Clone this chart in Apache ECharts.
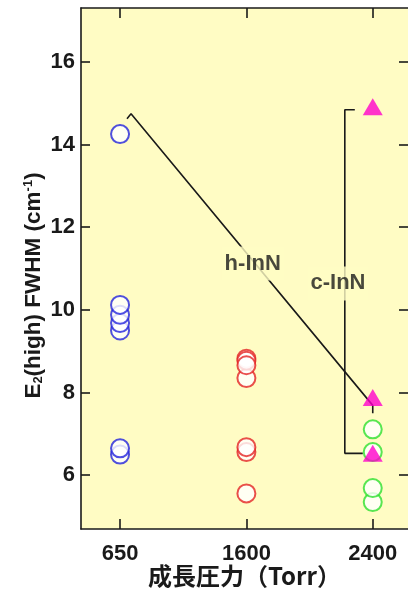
<!DOCTYPE html>
<html>
<head>
<meta charset="utf-8">
<style>
  html, body { margin: 0; padding: 0; background: #ffffff; }
  #chart { width: 408px; height: 593px; }
</style>
<script src="https://cdn.jsdelivr.net/npm/echarts@6/dist/echarts.min.js"></script>
</head>
<body>
<div id="chart"></div>
<script>
// Growth pressure groups (x positions are the group index 0, 1, 2)
const pressureLabels = ['650', '1600', '2400'];
const yTicks = [6, 8, 10, 12, 14, 16];

// E2(high) FWHM values (cm^-1) of hexagonal InN, per growth pressure
const hInN650 = [6.5, 6.65, 9.5, 9.68, 9.88, 10.12, 14.25];
const hInN1600 = [5.56, 6.56, 6.68, 8.35, 8.82, 8.77, 8.66];
const hInN2400 = [5.35, 5.69, 6.56, 7.11];
// cubic InN at 2400 Torr
const cInN2400 = [6.53, 7.88, 14.91];

// guide lines for the two phases (group index, FWHM)
const hGuideX = [0.055, 0.087, 2.0, 2.0];
const hGuideY = [14.62, 14.74, 7.69, 7.5];
const cBracketX = [1.858, 1.779, 1.779, 1.921];
const cBracketY = [14.84, 14.84, 6.53, 6.53];

// phase labels
const phaseNames = ['h-InN', 'c-InN'];
const phaseX = [1.05, 1.725];
const phaseY = [11.12, 10.64];

const plotBg = '#fffcc4';
const ink = '#1a1a1a';
const latin = '"Liberation Sans", Arial, sans-serif';

function circles(idx, values, color) {
  return {
    type: 'scatter',
    data: values.map(v => [idx, v]),
    symbol: 'circle',
    symbolSize: 18,
    itemStyle: { color: '#ffffff', borderColor: color, borderWidth: 2 },
    z: 5,
    silent: true
  };
}

function path(xs, ys) {
  return {
    type: 'line',
    data: xs.map((x, i) => [x, ys[i]]),
    showSymbol: false,
    symbol: 'none',
    lineStyle: { color: ink, width: 1.6 },
    z: 3,
    silent: true
  };
}

const chart = echarts.init(document.getElementById('chart'), null, { renderer: 'canvas' });

const axisStroke = { color: ink, width: 1.6 };
const baseX = {
  type: 'value',
  min: -0.309,
  max: 2.279,
  splitLine: { show: false },
  axisLine: { show: true, onZero: false, lineStyle: axisStroke },
  axisTick: { show: true, inside: true, length: 10, customValues: [0, 1, 2], lineStyle: axisStroke }
};
const baseY = {
  type: 'value',
  min: 4.7,
  max: 17.3,
  splitLine: { show: false },
  axisLine: { show: true, onZero: false, lineStyle: axisStroke },
  axisTick: { show: true, inside: true, length: 9, customValues: yTicks, lineStyle: axisStroke }
};

chart.setOption({
  animation: false,
  backgroundColor: '#ffffff',
  grid: {
    left: 81, right: 0, top: 8, bottom: 64,
    outerBoundsMode: 'none',
    containLabel: false,
    show: true, backgroundColor: plotBg, borderWidth: 0
  },
  xAxis: [
    Object.assign({}, baseX, {
      position: 'bottom',
      axisLabel: {
        show: true, customValues: [0, 1, 2], margin: 14,
        formatter: v => pressureLabels[Math.round(v)],
        fontFamily: latin, fontWeight: 'bold', fontSize: 22, color: ink
      },
      name: '成長圧力（Torr）',
      nameLocation: 'middle',
      nameGap: 35,
      nameMoveOverlap: false,
      nameTextStyle: {
        fontFamily: '"Noto Sans CJK JP", sans-serif', fontWeight: 'bold', fontSize: 24, color: ink
      }
    }),
    Object.assign({}, baseX, { position: 'top', axisLabel: { show: false } })
  ],
  yAxis: [
    Object.assign({}, baseY, {
      position: 'left',
      axisLabel: {
        show: true, customValues: yTicks, margin: 6,
        fontFamily: latin, fontWeight: 'bold', fontSize: 22, color: ink
      },
      name: 'E{sub|2}(high) FWHM (cm{sup|-1})',
      nameLocation: 'middle',
      nameGap: 36,
      nameMoveOverlap: false,
      nameTextStyle: {
        fontFamily: latin, fontWeight: 'bold', fontSize: 22.5, color: ink,
        padding: [0, 34, 0, 0],
        rich: {
          sub: { fontFamily: latin, fontWeight: 'bold', fontSize: 13, color: ink, verticalAlign: 'bottom', lineHeight: 12 },
          sup: { fontFamily: latin, fontWeight: 'bold', fontSize: 13, color: ink, verticalAlign: 'top', lineHeight: 12 }
        }
      }
    }),
    // right frame edge sits on the canvas border: ticks only
    Object.assign({}, baseY, {
      position: 'right',
      axisLine: { show: true, onZero: false, lineStyle: { color: 'rgba(0,0,0,0)', width: 0 } },
      axisLabel: { show: false }
    })
  ],
  series: [
    path(hGuideX, hGuideY),
    path(cBracketX, cBracketY),
    {
      type: 'scatter',
      data: phaseNames.map((n, i) => ({ name: n, value: [phaseX[i], phaseY[i]] })),
      symbolSize: 0,
      z: 4,
      silent: true,
      label: {
        show: true,
        position: 'inside',
        formatter: p => p.name,
        fontFamily: latin, fontWeight: 'bold', fontSize: 22, color: ink,
        backgroundColor: plotBg,
        padding: [6, 3]
      }
    },
    circles(0, hInN650, '#2323dc'),
    circles(1, hInN1600, '#e42424'),
    circles(2, hInN2400, '#2ee02e'),
    {
      type: 'scatter',
      data: cInN2400.map(v => [2, v]),
      symbol: 'triangle',
      symbolSize: [20, 17],
      itemStyle: { color: '#ff00cc' },
      z: 6,
      silent: true
    }
  ]
});
</script>
</body>
</html>
